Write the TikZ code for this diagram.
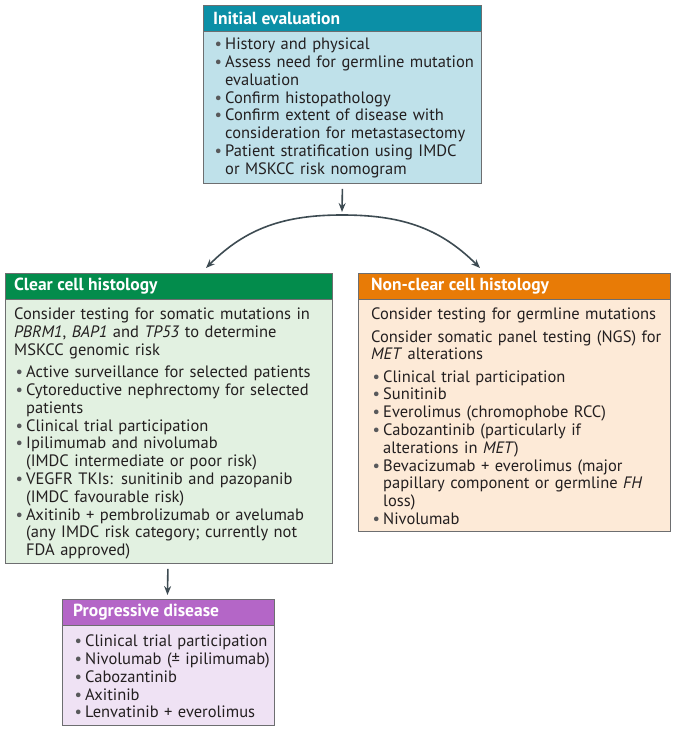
\documentclass[tikz,border=0pt]{standalone}
\usepackage{fontspec}
\setmainfont{PT Sans}
\usetikzlibrary{arrows.meta}

\definecolor{ink}{HTML}{231F20}
\definecolor{dotgray}{HTML}{58595B}
\definecolor{framegray}{HTML}{6D6E70}
\definecolor{arrowgray}{HTML}{3D4B52}
\definecolor{inithead}{HTML}{0B8FA6}
\definecolor{initbody}{HTML}{BFE1EA}
\definecolor{clearhead}{HTML}{038C4C}
\definecolor{clearbody}{HTML}{E2F1E1}
\definecolor{nchead}{HTML}{E87B06}
\definecolor{ncbody}{HTML}{FDEAD7}
\definecolor{proghead}{HTML}{B466C7}
\definecolor{progbody}{HTML}{EFE2F4}

% bullet item with hanging indent
\newcommand{\itm}[1]{\hangindent=12pt\hangafter=1\noindent\makebox[12pt][l]{\hspace{1.5pt}{\color{dotgray}\textbullet}}#1\par}

\begin{document}
\begin{tikzpicture}[x=1pt,y=-1pt,
    panel/.style={draw=framegray,line width=0.8pt,anchor=north west,inner sep=0pt},
    headtxt/.style={anchor=west,inner sep=0pt,text=white,font=\bfseries\fontsize{17.5}{20}\selectfont},
    body/.style={anchor=north west,inner sep=0pt,align=left,text=ink,font=\fontsize{16.5}{17.8}\selectfont},
    arr/.style={draw=arrowgray,line width=1.6pt,-{Stealth[length=9pt,width=7pt,inset=3pt]}}]
  \useasboundingbox (0,0) rectangle (685,730);

  % initial evaluation
  \node[panel,fill=initbody,minimum width=278pt,minimum height=178pt] (init) at (203,5) {};
  \node[panel,fill=inithead,minimum width=278pt,minimum height=26pt] (initbar) at (203,5) {};
  \node[headtxt] (inittitle) at ([xshift=10pt]initbar.west) {Initial evaluation};
  \node[body,text width=266pt] (inittext) at ([xshift=10pt,yshift=-6pt]initbar.south west) {%
    \itm{History and physical}
    \itm{Assess need for germline mutation\newline evaluation}
    \itm{Confirm histopathology}
    \itm{Confirm extent of disease with\newline consideration for metastasectomy}
    \itm{Patient stratification using IMDC\newline or MSKCC risk nomogram}};

  % clear cell
  \node[panel,fill=clearbody,minimum width=327pt,minimum height=290pt] (clear) at (5,273) {};
  \node[panel,fill=clearhead,minimum width=327pt,minimum height=26pt] (clearbar) at (5,273) {};
  \node[headtxt] (cleartitle) at ([xshift=9pt]clearbar.west) {Clear cell histology};
  \node[body,text width=316pt] (cleartext) at ([xshift=9pt,yshift=-8pt]clearbar.south west) {%
    Consider testing for somatic mutations in\newline
    \textit{PBRM1}, \textit{BAP1} and \textit{TP53} to determine\newline
    MSKCC genomic risk\par\vspace{4.5pt}
    \itm{Active surveillance for selected patients}
    \itm{Cytoreductive nephrectomy for selected\newline patients}
    \itm{Clinical trial participation}
    \itm{Ipilimumab and nivolumab\newline (IMDC intermediate or poor risk)}
    \itm{VEGFR TKIs: sunitinib and pazopanib\newline (IMDC favourable risk)}
    \itm{Axitinib + pembrolizumab or avelumab\newline (any IMDC risk category; currently not\newline FDA approved)}};

  % non-clear cell
  \node[panel,fill=ncbody,minimum width=312pt,minimum height=258pt] (nonclear) at (358,273) {};
  \node[panel,fill=nchead,minimum width=312pt,minimum height=26pt] (nonclearbar) at (358,273) {};
  \node[headtxt] (nocleartitle) at ([xshift=13pt]nonclearbar.west) {Non-clear cell histology};
  \node[body,text width=298pt] (noncleartext) at ([xshift=13pt,yshift=-8pt]nonclearbar.south west) {%
    Consider testing for germline mutations\par\vspace{4.5pt}
    Consider somatic panel testing (NGS) for\newline
    \textit{MET} alterations\par\vspace{4.5pt}
    \itm{Clinical trial participation}
    \itm{Sunitinib}
    \itm{Everolimus (chromophobe RCC)}
    \itm{Cabozantinib (particularly if\newline alterations in \textit{MET})}
    \itm{Bevacizumab + everolimus (major\newline papillary component or germline \textit{FH}\newline loss)}
    \itm{Nivolumab}};

  % progressive disease
  \node[panel,fill=progbody,minimum width=212pt,minimum height=126pt] (prog) at (62,599) {};
  \node[panel,fill=proghead,minimum width=212pt,minimum height=26pt] (progbar) at (62,599) {};
  \node[headtxt] (progtitle) at ([xshift=11pt]progbar.west) {Progressive disease};
  \node[body,text width=200pt] (progtext) at ([xshift=11pt,yshift=-9pt]progbar.south west) {%
    \itm{Clinical trial participation}
    \itm{Nivolumab (± ipilimumab)}
    \itm{Cabozantinib}
    \itm{Axitinib}
    \itm{Lenvatinib + everolimus}};

  % connectors
  \coordinate (fork) at (342,215);
  \coordinate (toclear) at (206,268);
  \coordinate (tononclear) at (480,268);
  \draw[arr] ([yshift=-5pt]init.south) -- ([yshift=3pt]fork);
  \draw[arr] (fork) to[out=180,in=45] (toclear);
  \draw[arr] (fork) to[out=0,in=135] (tononclear);
  \draw[arr,shorten >=4pt] ([xshift=-1pt,yshift=-5pt]clear.south) -- ([xshift=-1pt]progbar.north);
\end{tikzpicture}
\end{document}
